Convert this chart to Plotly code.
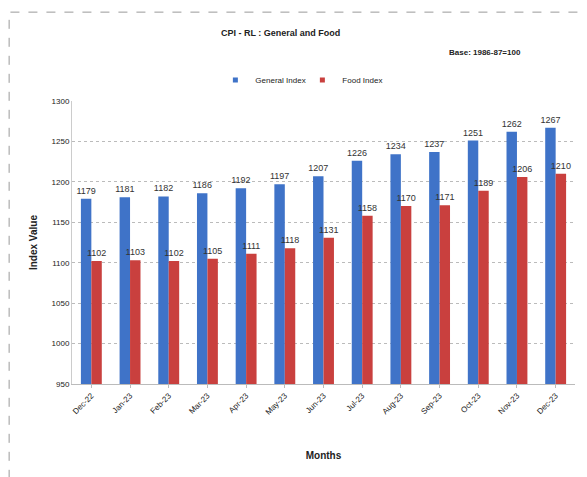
import plotly.graph_objects as go

months = ["Dec-22", "Jan-23", "Feb-23", "Mar-23", "Apr-23", "May-23", "Jun-23",
          "Jul-23", "Aug-23", "Sep-23", "Oct-23", "Nov-23", "Dec-23"]
general_index = [1179, 1181, 1182, 1186, 1192, 1197, 1207, 1226, 1234, 1237, 1251, 1262, 1267]
food_index = [1102, 1103, 1102, 1105, 1111, 1118, 1131, 1158, 1170, 1171, 1189, 1206, 1210]
series_names = ["General Index", "Food Index"]
series_colors = ["#3F73C8", "#C9403E"]

font_family = "Liberation Sans Narrow, Liberation Sans, Arial"

fig = go.Figure()
for name, vals, col in zip(series_names, [general_index, food_index], series_colors):
    fig.add_trace(go.Bar(x=months, y=vals, name=name, showlegend=False,
                         marker=dict(color=col, line=dict(width=0)),
                         text=[str(v) for v in vals], textposition="outside",
                         constraintext="none",
                         textfont=dict(size=9, color="#333"), cliponaxis=False))
# small square legend markers
for name, col in zip(series_names, series_colors):
    fig.add_trace(go.Scatter(x=[None], y=[None], mode="markers", name=name,
                             marker=dict(symbol="square", size=5, color=col)))

fig.update_layout(
    width=587, height=477,
    margin=dict(l=64, r=20, t=93, b=101),
    paper_bgcolor="white", plot_bgcolor="white",
    font=dict(family=font_family, size=8, color="#222"),
    barmode="group", bargap=0.46, bargroupgap=0.0,
    showlegend=True,
    legend=dict(orientation="h", x=0.458, xanchor="center", y=1.074, yanchor="middle",
                font=dict(size=8), entrywidth=42, bgcolor="rgba(0,0,0,0)",
                itemwidth=30),
    xaxis=dict(showline=True, linecolor="#bbb", ticks="outside", tickcolor="#bbb",
               ticklen=3, tickangle=-45, tickfont=dict(size=8),
               title=dict(text="<b>Months</b>", font=dict(size=10), standoff=36)),
    yaxis=dict(range=[950, 1300], dtick=50, showgrid=True, gridcolor="#bbb",
               griddash="dot", showline=True, linecolor="#ccc",
               tickfont=dict(size=8),
               title=dict(text="<b>Index Value</b>", font=dict(size=10), standoff=12)),
)

fig.add_annotation(text="<b>CPI - RL : General and Food</b>", xref="paper", yref="paper",
                   x=0.415, y=1.24, xanchor="center", yanchor="middle",
                   showarrow=False, font=dict(size=9))
fig.add_annotation(text="<b>Base: 1986-87=100</b>", xref="paper", yref="paper",
                   x=0.822, y=1.173, xanchor="center", yanchor="middle",
                   showarrow=False, font=dict(size=8))

# dashed outer border
fig.add_shape(type="rect", xref="paper", yref="paper",
              x0=-0.125, x1=1.2, y0=-0.5, y1=1.314,
              line=dict(color="#999", width=1, dash="dash"))

fig.write_html("out.html")
